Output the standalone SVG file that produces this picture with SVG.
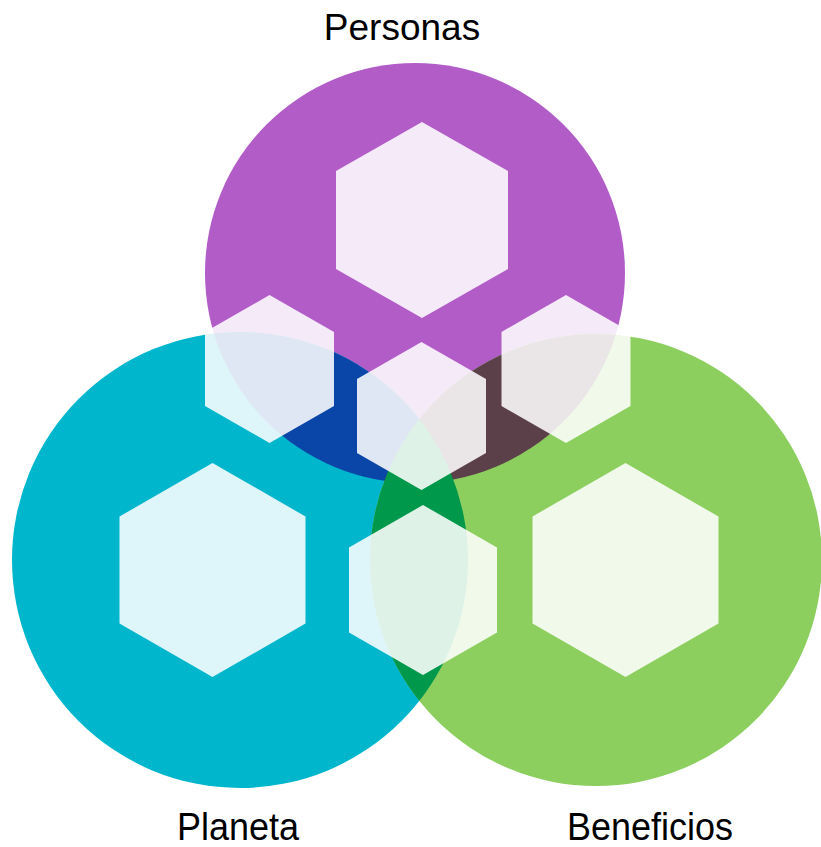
<svg xmlns="http://www.w3.org/2000/svg" width="821" height="847" viewBox="0 0 821 847">
  <style>
    .lbl { font-family: "Liberation Sans", Arial, sans-serif; font-size: 37px; fill: #000; text-anchor: middle; }
    .lbl2 { font-family: "Liberation Sans", Arial, sans-serif; font-size: 36px; fill: #000; text-anchor: middle; }
    .hex { fill: #ffffff; fill-opacity: 0.87; }
  </style>
  <defs>
    <clipPath id="clipPurple"><circle cx="415" cy="273" r="210"/></clipPath>
    <clipPath id="clipCyan"><circle cx="240" cy="560" r="228"/></clipPath>
  </defs>
  <rect width="821" height="847" fill="#ffffff"/>
  <g id="circles">
    <g id="circle-personas"><circle cx="415" cy="273" r="210" fill="#b25cc8"/></g>
    <g id="circle-planeta"><circle cx="240" cy="560" r="228" fill="#00b6cd"/></g>
    <g id="circle-beneficios"><circle cx="596" cy="560" r="226" fill="#8ccf5e"/></g>
    <g id="overlap-personas-planeta" clip-path="url(#clipPurple)"><circle cx="240" cy="560" r="228" fill="#0a46a8"/></g>
    <g id="overlap-personas-beneficios" clip-path="url(#clipPurple)"><circle cx="596" cy="560" r="226" fill="#5c4049"/></g>
    <g id="overlap-planeta-beneficios" clip-path="url(#clipCyan)"><circle cx="596" cy="560" r="226" fill="#00984a"/></g>
  </g>
  <g id="hexagons">
    <g id="hex-personas"><polygon class="hex" points="422,122 508,171 508,269 422,318 336,269 336,171"/></g>
    <g id="hex-planeta"><polygon class="hex" points="212.5,463 305.5,516.5 305.5,623.5 212.5,677 119.5,623.5 119.5,516.5"/></g>
    <g id="hex-beneficios"><polygon class="hex" points="625.5,463 718.5,516.5 718.5,623.5 625.5,677 532.5,623.5 532.5,516.5"/></g>
    <g id="hex-personas-planeta"><polygon class="hex" points="269.5,295 334,332 334,406 269.5,443 205,406 205,332"/></g>
    <g id="hex-personas-beneficios"><polygon class="hex" points="566,295 630.5,332 630.5,406 566,443 501.5,406 501.5,332"/></g>
    <g id="hex-center"><polygon class="hex" points="421.5,342 486,379 486,453 421.5,490 357,453 357,379"/></g>
    <g id="hex-planeta-beneficios"><polygon class="hex" points="423,505 497,547.5 497,632.5 423,675 349,632.5 349,547.5"/></g>
  </g>
  <g id="labels">
    <text class="lbl" x="402" y="40">Personas</text>
    <text class="lbl2" transform="translate(238,840) scale(1,1.08)">Planeta</text>
    <text class="lbl2" transform="translate(650,840) scale(1,1.08)">Beneficios</text>
  </g>
</svg>
